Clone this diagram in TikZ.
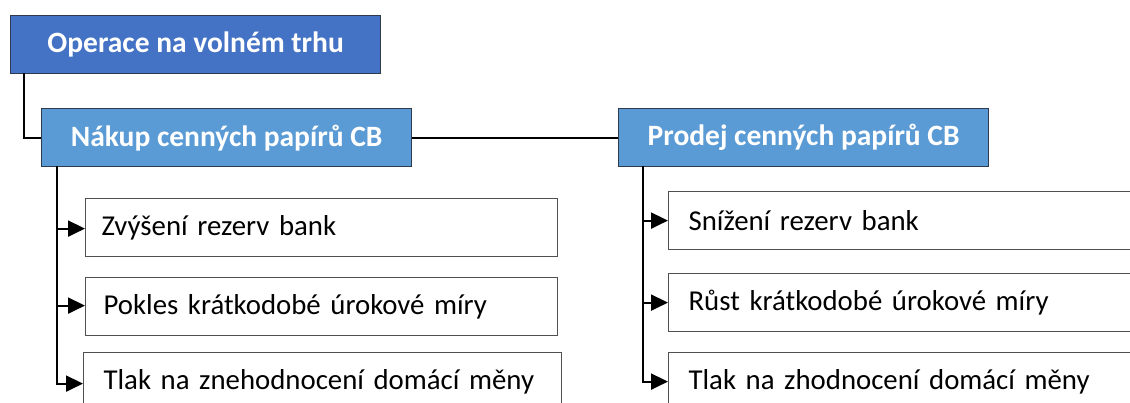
\documentclass[tikz,border=0pt]{standalone}
\usepackage{fontspec}
\setmainfont{Carlito}
\usetikzlibrary{arrows.meta}
\definecolor{titleblue}{HTML}{4472C4}
\definecolor{headblue}{HTML}{5B9BD5}
\definecolor{edgedark}{HTML}{2F3B4C}
\definecolor{boxedge}{HTML}{505050}
\begin{document}
\begin{tikzpicture}[x=1pt,y=-1pt,
  titlebox/.style={draw=edgedark,line width=1.3pt,fill=titleblue,text=white,anchor=north west,
    minimum width=370pt,minimum height=58pt,inner sep=0pt,font=\fontsize{29.5}{34}\selectfont\bfseries},
  headbox/.style={draw=edgedark,line width=1.3pt,fill=headblue,text=white,anchor=north west,
    minimum width=370pt,minimum height=58pt,inner sep=0pt,font=\fontsize{29.5}{34}\selectfont\bfseries},
  childbox/.style={draw=boxedge,line width=1.2pt,fill=white,anchor=north west,
    minimum height=58pt,inner xsep=16pt,inner ysep=0pt,align=left,font=\fontsize{28.8}{34}\selectfont},
  conn/.style={draw=black,line width=2pt},
  arr/.style={draw=black,line width=2pt,-{Triangle[length=17pt,width=16pt]}}]
\useasboundingbox (0,0) rectangle (1130,403);
\clip (0,0) rectangle (1130,403);
\fill[white] (0,0) rectangle (1130,403);

\coordinate (tstem) at (24,73);
\coordinate (lstem) at (57,166);
\coordinate (rstem) at (643,166);

\node[titlebox] (title) at (10,15) {Operace na volném trhu};
\node[headbox] (nakup) at (41,108) {Nákup cenných papírů CB};
\node[headbox] (prodej) at (618,108) {Prodej cenných papírů CB};

\node[childbox,text width=440pt] (l1) at (85,198) {Zvýšení rezerv bank};
\node[childbox,text width=436pt,inner xsep=18pt] (l2) at (85,277) {Pokles krátkodobé úrokové míry};
\node[childbox,text width=438pt,inner xsep=20pt] (l3) at (83,352) {Tlak na znehodnocení domácí měny};

\node[childbox,text width=432pt,inner xsep=20pt] (r1) at (668,191) {Snížení rezerv bank};
\node[childbox,text width=432pt,inner xsep=20pt] (r2) at (668,273) {Růst krátkodobé úrokové míry};
\node[childbox,text width=432pt,inner xsep=20pt] (r3) at (668,352) {Tlak na zhodnocení domácí měny};

\draw[conn] (tstem) |- (nakup.west);
\draw[conn] (nakup.east) -- (prodej.west);

\draw[arr] (lstem) |- ([yshift=-1pt]l1.west);
\draw[arr] (lstem) |- ([yshift=1pt]l2.west);
\draw[arr] (lstem) |- ([yshift=-2pt]l3.west);

\draw[arr] (rstem) |- (r1.west);
\draw[arr] (rstem) |- (r2.west);
\draw[arr] (rstem) |- (r3.west);
\end{tikzpicture}
\end{document}
